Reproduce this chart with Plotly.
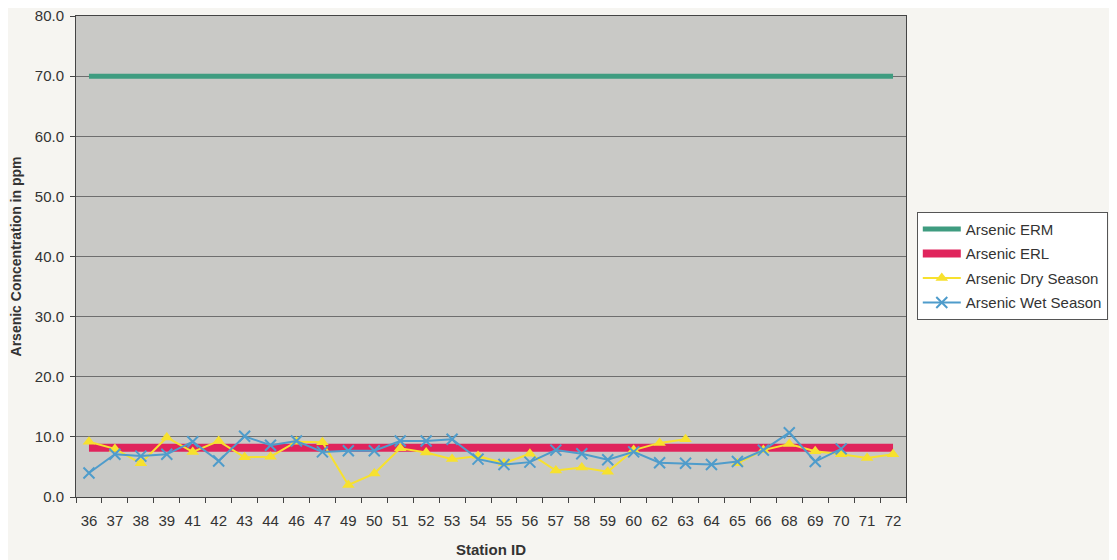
import plotly.graph_objects as go

stations = ["36", "37", "38", "39", "41", "42", "43", "44", "46", "47", "49", "50",
            "51", "52", "53", "54", "55", "56", "57", "58", "59", "60", "62", "63",
            "64", "65", "66", "68", "69", "70", "71", "72"]

erm_value = 70.0
erl_value = 8.2
erm = [erm_value] * len(stations)
erl = [erl_value] * len(stations)

dry = [9.2, 8.0, 5.6, 9.9, 7.5, 9.3, 6.6, 6.7, 9.2, 9.1, 2.0, 3.9,
       8.1, 7.4, 6.3, 6.8, 5.6, 7.2, 4.4, 4.9, 4.2, 7.8, 9.0, 9.6,
       None, 5.6, 7.8, 8.8, 7.6, 7.1, 6.5, 7.1]

wet = [4.0, 7.1, 6.8, 7.1, 9.2, 6.0, 10.1, 8.6, 9.3, 7.5, 7.7, 7.7,
       9.3, 9.3, 9.6, 6.3, 5.4, 5.8, 7.8, 7.2, 6.2, 7.5, 5.7, 5.6,
       5.4, 5.9, 7.8, 10.7, 5.9, 8.0, None, None]

y_ticks = [0, 10, 20, 30, 40, 50, 60, 70, 80]

FONT = "Liberation Sans, Arial, sans-serif"
TXT = "#333333"

fig = go.Figure()
fig.add_trace(go.Scatter(x=stations, y=erm, name="Arsenic ERM", mode="lines",
                         legendgroup="a",
                         line=dict(color="#3f9c80", width=5)))
fig.add_trace(go.Scatter(x=stations, y=erl, name="Arsenic ERL", mode="lines",
                         legendgroup="b",
                         line=dict(color="#e0245c", width=8)))
fig.add_trace(go.Scatter(x=stations, y=dry, name="Arsenic Dry Season", mode="lines+markers",
                         legendgroup="c",
                         line=dict(color="#f7e12e", width=2),
                         marker=dict(symbol="triangle-up", size=11, color="#f7e12e")))
fig.add_trace(go.Scatter(x=stations, y=wet, name="Arsenic Wet Season", mode="lines+markers",
                         legendgroup="d",
                         line=dict(color="#4f9ccb", width=2),
                         marker=dict(symbol="x-thin", size=11,
                                     line=dict(color="#4f9ccb", width=2))))

fig.update_layout(
    width=1117, height=560,
    margin=dict(l=68, r=219, t=8, b=71, autoexpand=False),
    paper_bgcolor="#f6f5f1",
    plot_bgcolor="#c9c9c6",
    font=dict(family=FONT, size=15, color=TXT),
    showlegend=True,
    legend=dict(x=1.013, y=0.593, xanchor="left", yanchor="top",
                bgcolor="#ffffff", bordercolor="#555555", borderwidth=1,
                font=dict(family=FONT, size=15, color=TXT),
                itemwidth=38, tracegroupgap=2),
    xaxis=dict(type="category", categoryorder="array", categoryarray=stations,
               range=[-0.5, len(stations) - 0.5],
               showgrid=False, showline=True, linecolor="#444444", linewidth=1,
               mirror=True, ticks="outside", tickson="boundaries", ticklen=5,
               tickcolor="#444444", tickfont=dict(size=15, color=TXT),
               ticklabelstandoff=10, automargin=False,
               title=dict(text="<b>Station ID</b>", font=dict(size=15, color=TXT),
                          standoff=16)),
    yaxis=dict(range=[0, 80], tickvals=y_ticks, tickformat=".1f",
               showgrid=True, gridcolor="#6e6e6e", gridwidth=1,
               showline=True, linecolor="#444444", linewidth=1, mirror=True,
               ticks="outside", ticklen=5, tickcolor="#444444",
               zeroline=False, tickfont=dict(size=15, color=TXT),
               ticklabelstandoff=3, ticklabeloverflow="allow", automargin=False,
               title=dict(text="<b>Arsenic Concentration in ppm</b>",
                          font=dict(size=14, color=TXT), standoff=10)),
)

fig.write_html("out.html")
